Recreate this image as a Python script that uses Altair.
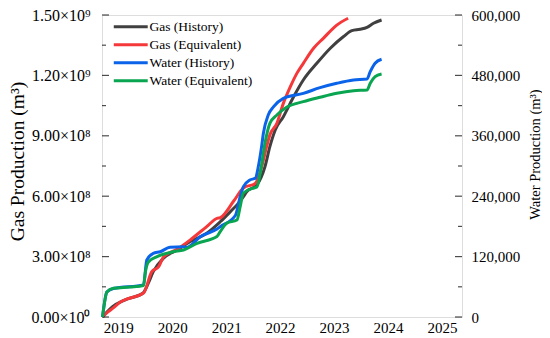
import altair as alt
import pandas as pd

series_names = ["Gas (History)", "Gas (Equivalent)", "Water (History)", "Water (Equivalent)"]
series_colors = ["#404040", "#f5383a", "#0a63e8", "#0aa550"]

# Gas production (m3), x in decimal years
gas_hist_year = [2018.71, 2018.89, 2019.13, 2019.46, 2019.56, 2019.65, 2019.84, 2020.09, 2020.33,
                 2020.64, 2020.89, 2021.14, 2021.20, 2021.32, 2021.38, 2021.57, 2021.72, 2021.81,
                 2021.91, 2022.06, 2022.25, 2022.43, 2022.68, 2022.93, 2023.17, 2023.33, 2023.48,
                 2023.61, 2023.73, 2023.88]
gas_hist_e8 = [0.0, 0.50, 0.85, 1.19, 1.69, 2.25, 2.92, 3.33, 3.74,
               4.16, 4.73, 5.40, 5.56, 5.98, 6.22, 6.56, 7.47, 8.46,
               9.29, 9.95, 10.94, 11.77, 12.60, 13.35, 13.92, 14.22, 14.29,
               14.39, 14.59, 14.75]

gas_eq_year = [2018.71, 2018.81, 2018.91, 2019.04, 2019.16, 2019.47, 2019.62, 2019.75, 2019.84,
               2020.09, 2020.33, 2020.64, 2020.83, 2020.89, 2021.14, 2021.32, 2021.54, 2021.66,
               2021.75, 2021.81, 2021.94, 2022.06, 2022.19, 2022.31, 2022.43, 2022.62, 2022.80,
               2023.05, 2023.26]
gas_eq_e8 = [0.0, 0.25, 0.45, 0.75, 0.89, 1.19, 2.24, 2.50, 2.98,
             3.36, 3.82, 4.49, 4.90, 4.93, 5.76, 6.41, 6.64, 7.47,
             8.46, 9.04, 9.62, 10.61, 11.44, 12.10, 12.60, 13.35, 13.84,
             14.50, 14.84]

# Water production (thousand m3)
water_hist_year = [2018.71, 2018.79, 2018.91, 2019.47, 2019.53, 2019.65, 2019.78, 2019.96, 2020.21,
                   2020.27, 2020.52, 2020.83, 2020.89, 2021.17, 2021.26, 2021.32, 2021.44, 2021.54,
                   2021.60, 2021.66, 2021.69, 2021.78, 2021.88, 2022.06, 2022.43, 2022.74, 2023.05,
                   2023.36, 2023.61, 2023.67, 2023.76, 2023.88]
water_hist_k = [0.0, 49.7, 56.6, 63.6, 113.2, 126.6, 129.7, 138.5, 139.7,
                138.1, 159.5, 174.8, 179.4, 201.7, 239.0, 258.9, 272.2, 275.6,
                301.0, 341.0, 365.0, 401.3, 417.8, 434.5, 444.4, 455.6, 464.3,
                470.9, 472.9, 487.4, 504.1, 512.0]

water_eq_year = [2018.71, 2018.74, 2018.79, 2018.91, 2019.22, 2019.47, 2019.50, 2019.56, 2019.72,
                 2020.02, 2020.21, 2020.46, 2020.83, 2020.89, 2021.01, 2021.20, 2021.26, 2021.32,
                 2021.51, 2021.57, 2021.63, 2021.72, 2021.81, 2021.94, 2022.12, 2022.43, 2022.74,
                 2023.05, 2023.36, 2023.61, 2023.67, 2023.76, 2023.88]
water_eq_k = [0.0, 23.8, 49.7, 57.0, 59.6, 62.6, 86.8, 109.3, 119.8,
              129.7, 133.1, 146.4, 159.9, 169.5, 186.2, 192.7, 219.1, 246.4,
              256.3, 258.3, 285.5, 345.7, 384.8, 401.3, 416.6, 427.8, 436.5,
              444.4, 449.6, 451.0, 464.3, 477.4, 482.8]

year_ticks = [2019, 2020, 2021, 2022, 2023, 2024, 2025]
gas_major = [0, 3e8, 6e8, 9e8, 1.2e9, 1.5e9]
gas_minor = [1.5e8, 4.5e8, 7.5e8, 1.05e9, 1.35e9]
water_major = [0, 120000, 240000, 360000, 480000, 600000]
water_minor = [60000, 180000, 300000, 420000, 540000]

gas_df = pd.concat([
    pd.DataFrame({"year": gas_hist_year, "value": [v * 1e8 for v in gas_hist_e8], "series": series_names[0]}),
    pd.DataFrame({"year": gas_eq_year, "value": [v * 1e8 for v in gas_eq_e8], "series": series_names[1]}),
])
water_df = pd.concat([
    pd.DataFrame({"year": water_hist_year, "value": [v * 1000 for v in water_hist_k], "series": series_names[2]}),
    pd.DataFrame({"year": water_eq_year, "value": [v * 1000 for v in water_eq_k], "series": series_names[3]}),
])

W, H = 360, 302
FONT = "Liberation Serif"

x_axis = alt.Axis(values=year_ticks, format="d", ticks=False, domain=False, grid=False,
                  labelFont=FONT, labelFontSize=15, labelPadding=3, labelColor="#000",
                  labelFlush=False, title=None)
x_enc = alt.X("year:Q", scale=alt.Scale(domain=[2018.70, 2025.37], nice=False, zero=False), axis=x_axis)

gas_label = ("datum.value == 0 ? '0.00×10⁰' : format(datum.value / pow(10, floor(log(datum.value)/LN10 + 1e-9)), '.2f')"
             " + '×10' + (floor(log(datum.value)/LN10 + 1e-9) == 9 ? '⁹' : '⁸')")
gas_axis = alt.Axis(values=gas_major, labelExpr=gas_label, ticks=False, domain=False, grid=False,
                    labelFont=FONT, labelFontSize=16, labelPadding=12, labelColor="#000",
                    title="Gas Production (m³)", titleFont=FONT, titleFontSize=19.5,
                    titleFontWeight="normal", titleColor="#000", titlePadding=3,
                    titleY=146, orient="left")
gas_scale = alt.Scale(domain=[0, 1.5e9], nice=False)

water_axis = alt.Axis(values=water_major, format=",d", ticks=False, domain=False, grid=False,
                      labelFont=FONT, labelFontSize=15, labelPadding=9, labelColor="#000",
                      title="Water Production (m³)", titleFont=FONT, titleFontSize=14.5,
                      titleFontWeight="normal", titleColor="#000", titlePadding=9,
                      titleAngle=270, titleBaseline="top", titleY=139, orient="right")
water_scale = alt.Scale(domain=[0, 600000], nice=False)

color_enc = alt.Color(
    "series:N",
    scale=alt.Scale(domain=series_names, range=series_colors),
    legend=alt.Legend(
        title=None, orient="none", legendX=22, legendY=5,
        symbolType="M-4,0H4", symbolSize=72, symbolStrokeWidth=3.2,
        labelFont=FONT, labelFontSize=13.5, labelColor="#000", labelOffset=12,
        rowPadding=3, padding=0,
    ),
)

gas_lines = alt.Chart(gas_df).mark_line(strokeWidth=3, interpolate="monotone").encode(
    x=x_enc, y=alt.Y("value:Q", scale=gas_scale, axis=gas_axis), color=color_enc,
    order=alt.Order("year:Q"),
)
gas_major_ticks = alt.Chart(pd.DataFrame({"v": gas_major})).mark_tick(
    color="#000", thickness=1.2, orient="horizontal", size=7).encode(
    y=alt.Y("v:Q", scale=gas_scale, axis=gas_axis), x=alt.value(3.5))
gas_minor_ticks = alt.Chart(pd.DataFrame({"v": gas_minor})).mark_tick(
    color="#000", thickness=1.2, orient="horizontal", size=4).encode(
    y=alt.Y("v:Q", scale=gas_scale, axis=gas_axis), x=alt.value(2))

water_lines = alt.Chart(water_df).mark_line(strokeWidth=3, interpolate="monotone").encode(
    x=x_enc, y=alt.Y("value:Q", scale=water_scale, axis=water_axis), color=color_enc,
    order=alt.Order("year:Q"),
)
water_major_ticks = alt.Chart(pd.DataFrame({"v": water_major})).mark_tick(
    color="#000", thickness=1.2, orient="horizontal", size=7).encode(
    y=alt.Y("v:Q", scale=water_scale, axis=water_axis), x=alt.value(W - 3.5))
water_minor_ticks = alt.Chart(pd.DataFrame({"v": water_minor})).mark_tick(
    color="#000", thickness=1.2, orient="horizontal", size=4).encode(
    y=alt.Y("v:Q", scale=water_scale, axis=water_axis), x=alt.value(W - 2))

gas_layer = alt.layer(gas_lines, gas_major_ticks, gas_minor_ticks)
water_layer = alt.layer(water_lines, water_major_ticks, water_minor_ticks)

chart = alt.layer(gas_layer, water_layer).resolve_scale(y="independent").properties(
    width=W, height=H,
    autosize=alt.AutoSizeParams(type="none"),
    padding={"left": 94, "top": 7, "right": 80, "bottom": 21},
).configure_view(stroke="#000", strokeWidth=1.5).configure(background="white")

chart.save("out.html", embed_options={"renderer": "svg", "actions": False})
